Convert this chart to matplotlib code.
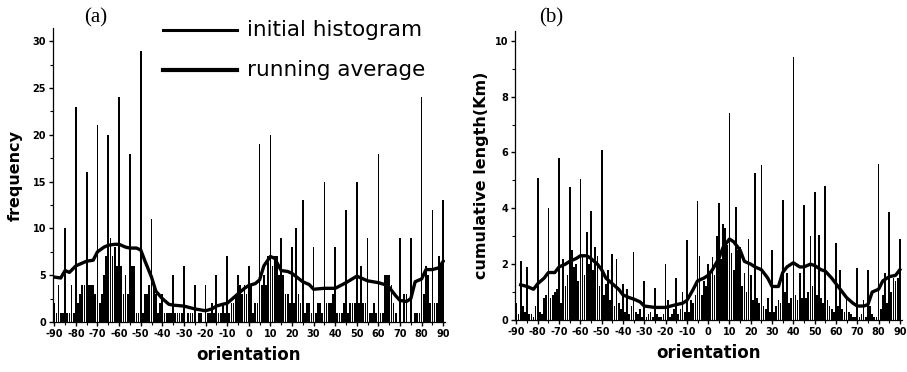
import numpy as np
import matplotlib
matplotlib.use('Agg')
import matplotlib.pyplot as plt
from matplotlib.lines import Line2D

plt.rcParams['axes.unicode_minus'] = False
plt.rcParams['axes.linewidth'] = 0.9

orientation = np.arange(-90, 91)

# (a) frequency per degree, rows of 5 starting at -90, -85, ...
freq = [
    2, 1, 4, 1, 1,
    10, 1, 1, 4, 1,
    23, 2, 3, 4, 4,
    16, 4, 4, 4, 3,
    21, 2, 3, 5, 7,
    20, 9, 7, 8, 6,
    24, 6, 3, 5, 3,
    18, 6, 6, 1, 1,
    29, 1, 3, 3, 4,
    11, 4, 3, 1, 2,
    3, 1, 1, 1, 1,
    5, 1, 1, 1, 1,
    6, 0, 1, 1, 1,
    4, 0, 1, 1, 0,
    4, 1, 1, 2, 1,
    5, 1, 1, 2, 1,
    7, 1, 2, 2, 3,
    5, 4, 3, 4, 3,
    6, 4, 1, 2, 2,
    19, 4, 5, 4, 7,
    20, 6, 7, 7, 5,
    9, 5, 3, 3, 2,
    8, 2, 10, 3, 2,
    13, 1, 2, 2, 1,
    8, 1, 2, 2, 1,
    15, 2, 2, 2, 3,
    8, 1, 1, 1, 2,
    12, 1, 2, 2, 2,
    15, 2, 6, 2, 2,
    9, 1, 1, 2, 1,
    18, 1, 1, 5, 5,
    5, 4, 2, 1, 0,
    9, 0, 3, 3, 0,
    9, 0, 1, 1, 1,
    24, 3, 6, 5, 2,
    12, 2, 2, 7, 6,
    13,
]

avg_a_x = [-90, -87, -85, -83, -80, -77, -75, -72, -70, -67, -65, -62, -60, -57,
           -55, -52, -50, -48, -45, -43, -40, -37, -35, -30, -25, -20, -17, -15,
           -12, -10, -5, -2, 0, 3, 5, 7, 10, 12, 15, 18, 20, 25, 28, 30, 35, 40,
           45, 50, 55, 60, 63, 65, 68, 70, 73, 75, 77, 80, 82, 85, 88, 90]
avg_a = [4.8, 4.7, 5.5, 5.3, 6.0, 6.3, 6.5, 6.6, 7.5, 8.0, 8.2, 8.3, 8.3, 8.0,
         7.9, 7.9, 7.7, 6.5, 4.8, 3.3, 2.5, 1.9, 1.8, 1.7, 1.4, 1.2, 1.4, 1.7,
         1.9, 2.0, 3.0, 3.6, 3.9, 4.1, 4.5, 6.0, 7.0, 6.8, 5.5, 5.4, 5.2, 4.3,
         4.0, 3.5, 3.6, 3.6, 4.2, 4.9, 4.4, 4.2, 4.0, 3.7, 2.8, 2.3, 2.2, 2.5,
         4.3, 4.6, 5.6, 5.6, 5.8, 6.5]

# (b) cumulative length (Km) per degree
length = [
    0.6, 0.2, 2.1, 0.5, 0.3,
    1.9, 0.2, 0.2, 0.1, 0.5,
    5.1, 0.3, 0.2, 0.8, 0.9,
    4.0, 0.8, 0.9, 1.0, 1.1,
    5.8, 0.6, 2.2, 1.2, 1.6,
    4.75, 2.5, 1.9, 2.0, 1.4,
    5.05, 2.3, 1.6, 3.15, 2.0,
    3.9, 1.8, 2.6, 2.3, 1.2,
    6.1, 0.9, 1.3, 1.8, 0.7,
    2.35, 0.5, 2.2, 0.6, 0.4,
    1.3, 0.3, 1.1, 0.2, 0.5,
    2.45, 0.3, 0.2, 0.4, 0.1,
    1.4, 0.1, 0.2, 0.3, 0.1,
    1.15, 0.2, 0.1, 0.1, 0.2,
    2.0, 0.7, 0.1, 0.2, 0.4,
    1.5, 0.2, 0.4, 1.0, 0.3,
    2.85, 0.3, 0.7, 0.6, 0.9,
    4.25, 2.3, 0.9, 1.4, 1.2,
    2.0, 1.7, 2.25, 1.6, 3.0,
    4.2, 2.2, 3.45, 3.3, 2.7,
    7.4, 2.4, 1.8, 4.05, 2.5,
    2.6, 1.2, 1.7, 1.0, 2.9,
    1.6, 0.7, 5.25, 0.8, 0.6,
    5.55, 0.5, 0.4, 0.8, 0.3,
    2.5, 0.3, 0.5, 0.7, 0.6,
    4.3, 1.0, 1.7, 0.6, 0.8,
    9.4, 0.9, 0.7, 1.7, 0.8,
    4.1, 0.8, 1.0, 3.0, 1.2,
    4.6, 0.9, 3.05, 0.8, 0.6,
    4.8, 0.7, 0.5, 0.4, 0.3,
    2.75, 0.5, 1.8, 0.4, 0.3,
    0.8, 0.3, 0.2, 0.1, 0.1,
    1.85, 0.1, 0.2, 0.7, 0.1,
    1.8, 0.5, 0.2, 0.1, 0.1,
    5.6, 0.4, 0.9, 1.7, 0.6,
    3.85, 1.0, 1.5, 1.4, 1.5,
    2.9,
]

avg_b_x = [-88, -85, -82, -80, -77, -75, -72, -70, -67, -65, -62, -60, -57, -55,
           -52, -50, -48, -45, -42, -40, -37, -35, -32, -30, -25, -20, -15, -12,
           -10, -7, -5, -2, 0, 2, 5, 7, 10, 12, 15, 17, 20, 22, 25, 28, 30, 33,
           35, 37, 40, 43, 45, 48, 50, 53, 55, 58, 60, 63, 65, 68, 70, 73, 75,
           77, 80, 82, 85, 88, 90]
avg_b = [1.26, 1.2, 1.1, 1.3, 1.5, 1.7, 1.7, 1.9, 2.0, 2.1, 2.2, 2.3, 2.3, 2.2,
         2.0, 1.8, 1.5, 1.3, 1.1, 0.9, 0.8, 0.75, 0.65, 0.5, 0.45, 0.45, 0.55,
         0.6, 0.7, 1.1, 1.4, 1.5, 1.6, 1.8, 2.2, 2.6, 2.9, 2.8, 2.5, 2.1, 2.0,
         1.9, 1.8, 1.5, 1.2, 1.2, 1.7, 1.9, 2.05, 1.9, 1.9, 2.0, 1.95, 1.8,
         1.75, 1.5, 1.3, 1.0, 0.8, 0.6, 0.5, 0.5, 0.55, 1.0, 1.1, 1.4, 1.55,
         1.6, 1.8]

fig = plt.figure(figsize=(9.07, 3.72), dpi=100)
ax1 = fig.add_axes([0.0584, 0.1344, 0.4322, 0.790])
ax2 = fig.add_axes([0.568, 0.1398, 0.426, 0.777])


def style(ax, ylim, ymajor, yminor):
    ax.set_xlim(-90.6, 90.8)
    ax.set_ylim(*ylim)
    ax.spines['top'].set_visible(False)
    ax.spines['right'].set_visible(False)
    ax.set_xticks(np.arange(-90, 91, 10))
    ax.set_xticks(np.arange(-85, 90, 10), minor=True)
    ax.set_yticks(ymajor)
    ax.set_yticks(yminor, minor=True)
    ax.tick_params(direction='out', length=3, width=1, pad=2)
    ax.tick_params(which='minor', direction='out', length=2, width=0.8)
    for lab in ax.get_xticklabels() + ax.get_yticklabels():
        lab.set_fontsize(7)
        lab.set_fontweight('bold')
    ax.set_xlabel('orientation', fontsize=12, fontweight='bold', labelpad=5)


ax1.bar(orientation, freq, width=0.8, color='black', linewidth=0)
ax1.plot(avg_a_x, avg_a, color='black', lw=2.4)
style(ax1, (0, 31.4), np.arange(0, 31, 5), np.arange(0, 31, 2.5))
ax1.set_ylabel('frequency', fontsize=11.5, fontweight='bold', labelpad=7)

ax2.bar(orientation, length, width=0.8, color='black', linewidth=0)
ax2.plot(avg_b_x, avg_b, color='black', lw=2.4)
style(ax2, (0, 10.35), np.arange(0, 11, 2), np.arange(0, 10.5, 1))
ax2.set_ylabel('cumulative length(Km)', fontsize=11.5, fontweight='bold', labelpad=4)

fig.text(0.105, 0.952, '(a)', fontsize=15, family='Liberation Serif', ha='center', va='center')
fig.text(0.608, 0.952, '(b)', fontsize=15, family='Liberation Serif', ha='center', va='center')

# legend drawn by hand in figure coordinates
fig.add_artist(Line2D([0.180, 0.261], [0.919, 0.919], color='black', lw=2.2))
fig.add_artist(Line2D([0.180, 0.261], [0.812, 0.812], color='black', lw=3.0))
fig.text(0.272, 0.919, 'initial histogram', fontsize=15.5, va='center', ha='left')
fig.text(0.272, 0.812, 'running average', fontsize=15.5, va='center', ha='left')

fig.savefig('out.png', dpi=100)
